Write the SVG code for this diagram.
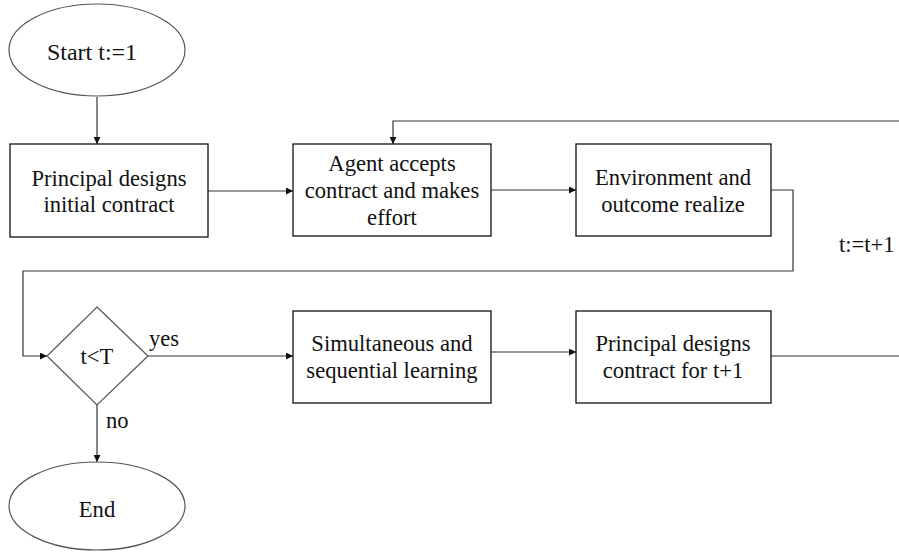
<svg xmlns="http://www.w3.org/2000/svg" width="899" height="552" viewBox="0 0 899 552">
<style>
text{font-family:"Liberation Serif","Times New Roman",serif;font-size:22.6px;fill:#111;text-anchor:middle}
.box{fill:#fff;stroke:#111;stroke-width:1.3}
.term{fill:#fff;stroke:#555;stroke-width:1.2}
.ln{fill:none;stroke:#333;stroke-width:1.2}
.lab{text-anchor:start}
</style>
<defs>
<marker id="ah" viewBox="0 0 10 10" refX="10" refY="5" markerWidth="7" markerHeight="7" orient="auto" markerUnits="userSpaceOnUse">
<path d="M0,0 L10,5 L0,10 z" fill="#111"/>
</marker>
</defs>
<g id="connectors">
<line class="ln" x1="97" y1="97" x2="97" y2="144" marker-end="url(#ah)"/>
<line class="ln" x1="208" y1="191" x2="293" y2="191" marker-end="url(#ah)"/>
<line class="ln" x1="491" y1="190" x2="576" y2="190" marker-end="url(#ah)"/>
<polyline class="ln" points="771,190 793,190 793,271 23,271 23,356 47,356" marker-end="url(#ah)"/>
<line class="ln" x1="148" y1="356" x2="293" y2="356" marker-end="url(#ah)"/>
<line class="ln" x1="97" y1="405" x2="97" y2="462" marker-end="url(#ah)"/>
<line class="ln" x1="491" y1="352" x2="576" y2="352" marker-end="url(#ah)"/>
<line class="ln" x1="771" y1="356" x2="899" y2="356"/>
<polyline class="ln" points="899,121 393,121 393,144" marker-end="url(#ah)"/>
<text class="lab" x="149" y="346">yes</text>
<text class="lab" x="106" y="428">no</text>
<text class="lab" x="839" y="252">t:=t+1</text>
</g>
<g id="start">
<ellipse class="term" cx="97" cy="50" rx="88" ry="46"/>
<text x="92" y="60" style="font-size:24px">Start t:=1</text>
</g>
<g id="initial">
<rect class="box" x="10" y="144" width="198" height="93"/>
<text x="109" y="186">Principal designs</text>
<text x="109" y="212">initial contract</text>
</g>
<g id="agent">
<rect class="box" x="293" y="144" width="198" height="92"/>
<text x="392" y="171">Agent accepts</text>
<text x="392" y="198">contract and makes</text>
<text x="392" y="225">effort</text>
</g>
<g id="environment">
<rect class="box" x="576" y="144" width="195" height="92"/>
<text x="673" y="185">Environment and</text>
<text x="673" y="212">outcome realize</text>
</g>
<g id="decision">
<polygon class="term" points="97,307 148,356 97,405 47,356"/>
<text x="97" y="364">t&lt;T</text>
</g>
<g id="learning">
<rect class="box" x="293" y="311" width="198" height="92"/>
<text x="392" y="351">Simultaneous and</text>
<text x="392" y="378">sequential learning</text>
</g>
<g id="nextcontract">
<rect class="box" x="576" y="311" width="195" height="92"/>
<text x="673" y="351">Principal designs</text>
<text x="673" y="378">contract for t+1</text>
</g>
<g id="end">
<ellipse class="term" cx="97" cy="506" rx="88" ry="44"/>
<text x="97" y="517">End</text>
</g>
</svg>
